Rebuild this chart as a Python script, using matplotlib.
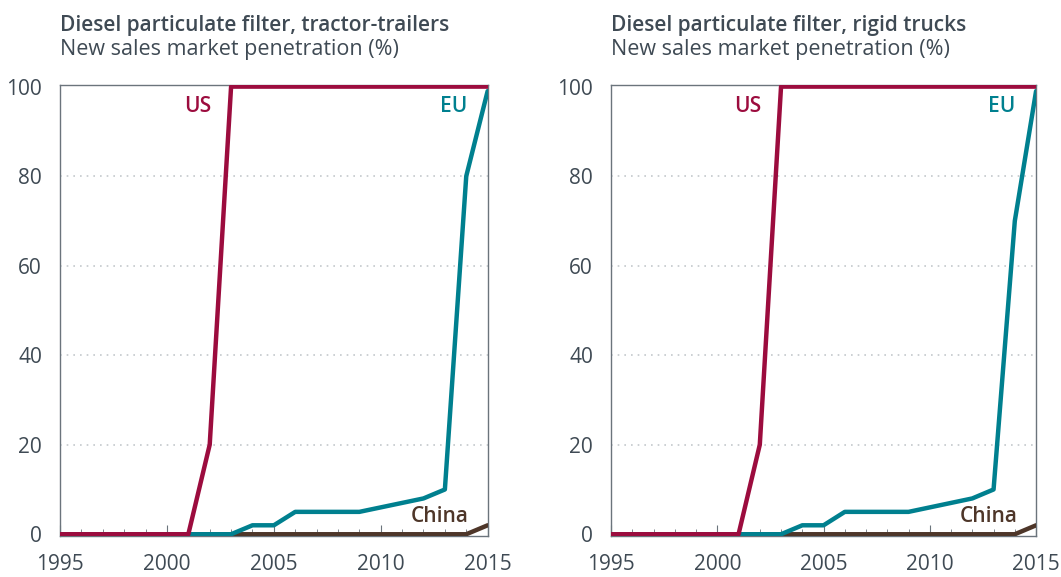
import matplotlib.pyplot as plt
import numpy as np

years = list(range(1995, 2016))

# tractor-trailers
us_tt = [0, 0, 0, 0, 0, 0, 0, 20] + [100] * 13
eu_tt = [0] * 9 + [2, 2, 5, 5, 5, 5, 6, 7, 8, 10, 80, 99]
cn_tt = [0] * 20 + [2]

# rigid trucks
us_rt = [0, 0, 0, 0, 0, 0, 0, 20] + [100] * 13
eu_rt = [0] * 9 + [2, 2, 5, 5, 5, 5, 6, 7, 8, 10, 70, 99]
cn_rt = [0] * 20 + [2]

titles = ['Diesel particulate filter, tractor-trailers',
          'Diesel particulate filter, rigid trucks']
subtitle = 'New sales market penetration (%)'

c_us = '#9c0c3e'
c_eu = '#00808f'
c_cn = '#4e3629'
c_txt = '#3f4a54'
c_spine = '#6b747c'

plt.rcParams['font.family'] = ['Open Sans', 'DejaVu Sans']

fig = plt.figure(figsize=(10.61, 5.77), dpi=100)
axes = [fig.add_axes([0.0566, 0.071, 0.403, 0.782]),
        fig.add_axes([0.5759, 0.071, 0.4006, 0.782])]

panels = [(us_tt, eu_tt, cn_tt), (us_rt, eu_rt, cn_rt)]

for ax, (us, eu, cn), title in zip(axes, panels, titles):
    ax.plot(years, cn, color=c_cn, lw=3.2, solid_capstyle='round', zorder=3)
    ax.plot(years, eu, color=c_eu, lw=3.2, solid_capstyle='round', zorder=4)
    ax.plot(years, us, color=c_us, lw=3.2, solid_capstyle='round', zorder=5)

    ax.set_xlim(1995, 2015)
    ax.set_ylim(-0.4, 100.4)
    ax.set_yticks([0, 20, 40, 60, 80, 100])
    ax.set_xticks([1995, 2000, 2005, 2010, 2015])
    ax.set_xticks(years, minor=True)
    for y in [20, 40, 60, 80]:
        ax.axhline(y, color='#c4c8cc', lw=1.2, ls=(0, (1, 3)), zorder=1)

    for s in ax.spines.values():
        s.set_color(c_spine)
        s.set_linewidth(1)
    ax.tick_params(axis='x', which='major', direction='in', length=8,
                   color=c_spine, labelsize=15, labelcolor=c_txt, pad=13)
    ax.tick_params(axis='x', which='minor', direction='in', length=5, color=c_spine)
    ax.tick_params(axis='y', length=0, labelsize=15, labelcolor=c_txt, pad=13)

    ax.text(2001.45, 95.5, 'US', color=c_us, fontsize=15, fontweight='semibold',
            ha='center', va='center')
    ax.text(2013.4, 95.5, 'EU', color=c_eu, fontsize=15, fontweight='semibold',
            ha='center', va='center')
    ax.text(2012.75, 4, 'China', color=c_cn, fontsize=15, fontweight='semibold',
            ha='center', va='center')

    ax.text(0, 1.12, title, transform=ax.transAxes, fontsize=15,
            fontweight='semibold', color=c_txt, ha='left', va='baseline')
    ax.text(0, 1.065, subtitle, transform=ax.transAxes, fontsize=15.5,
            color=c_txt, ha='left', va='baseline')

fig.savefig('out.png', dpi=100)
